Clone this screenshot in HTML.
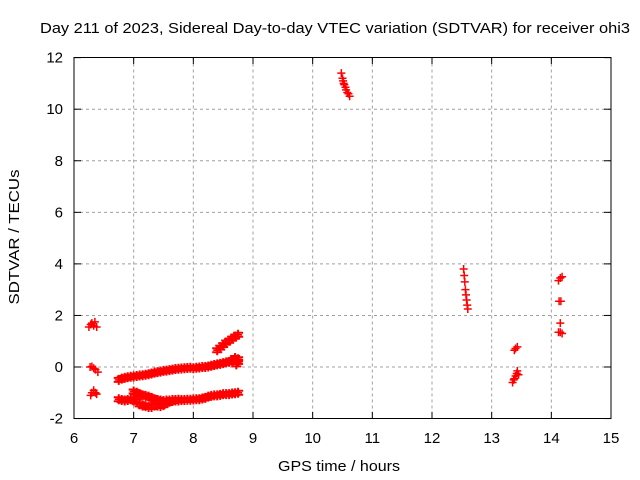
<!DOCTYPE html>
<html><head><meta charset="utf-8"><style>
html,body{margin:0;padding:0;background:#fff}
svg{display:block;font-family:"Liberation Sans",sans-serif}
</style></head><body>
<svg id="chart" width="640" height="480" viewBox="0 0 640 480" xmlns="http://www.w3.org/2000/svg">
<text x="335" y="33" font-size="15" text-anchor="middle" textLength="590" lengthAdjust="spacingAndGlyphs">Day 211 of 2023, Sidereal Day-to-day VTEC variation (SDTVAR) for receiver ohi3</text>
<text x="339" y="471" font-size="15" text-anchor="middle" textLength="122" lengthAdjust="spacingAndGlyphs">GPS time / hours</text>
<text x="19" y="237" font-size="15" text-anchor="middle" textLength="135" lengthAdjust="spacingAndGlyphs" transform="rotate(-90 19 237)">SDTVAR / TECUs</text>
<g id="grid"></g>
<g id="ticks"></g>
<g id="marks"></g>
<rect x="74" y="57.5" width="537" height="361" fill="none" stroke="#000" stroke-width="1"/>
</svg>
<script>
const xTicks=[6,7,8,9,10,11,12,13,14,15];
const yTicks=[-2,0,2,4,6,8,10,12];
const hours=[6.25,6.28,6.3,6.33,6.35,6.38,6.27,6.3,6.33,6.36,6.4,6.28,6.3,6.33,6.36,6.38,
6.75,6.8,6.85,6.9,6.95,7.0,7.05,7.1,7.15,7.2,7.25,7.3,7.35,7.4,7.45,7.5,7.55,7.6,7.65,7.7,7.75,7.8,7.85,7.9,7.95,8.0,8.05,8.1,8.15,8.2,8.25,8.3,8.35,8.4,8.45,8.5,8.55,8.6,8.65,8.7,8.75,8.72,8.75,8.7,
6.75,6.8,6.85,6.9,6.95,7.0,7.05,7.1,7.15,7.2,7.25,7.3,7.35,7.4,7.45,7.5,7.55,7.6,7.65,7.7,7.75,7.8,7.85,7.9,7.95,8.0,8.05,8.1,8.15,8.2,8.25,8.3,8.35,8.4,8.45,8.5,8.55,8.6,8.65,8.7,8.75,
7.0,7.05,7.1,7.15,7.2,7.25,7.3,7.35,7.4,7.45,7.5,7.55,7.6,7.65,7.7,7.75,
8.4,8.45,8.5,8.55,8.6,8.65,8.7,8.75,
10.48,10.5,10.51,10.52,10.53,10.55,10.56,10.58,10.6,10.62,
12.53,12.54,12.55,12.56,12.57,12.58,12.59,12.6,
13.38,13.4,13.43,13.35,13.37,13.38,13.4,13.42,13.43,13.45,
14.12,14.15,14.18,14.13,14.16,14.15,14.12,14.15,14.18];
const tecu=[1.55,1.65,1.7,1.6,1.75,1.55,0.0,0.02,-0.05,-0.1,-0.2,-1.1,-1.0,-0.9,-1.0,-1.05,
-0.5,-0.45,-0.42,-0.4,-0.38,-0.37,-0.35,-0.33,-0.32,-0.3,-0.28,-0.25,-0.22,-0.2,-0.18,-0.15,-0.14,-0.12,-0.1,-0.08,-0.07,-0.06,-0.05,-0.04,-0.03,-0.05,-0.03,-0.02,0.0,0.0,0.02,0.05,0.08,0.1,0.12,0.15,0.18,0.2,0.25,0.3,0.3,0.1,0.2,0.35,
-1.25,-1.28,-1.3,-1.28,-1.25,-1.3,-1.35,-1.45,-1.5,-1.52,-1.55,-1.55,-1.5,-1.5,-1.52,-1.48,-1.4,-1.35,-1.32,-1.3,-1.3,-1.28,-1.28,-1.27,-1.27,-1.26,-1.25,-1.25,-1.22,-1.2,-1.15,-1.12,-1.1,-1.1,-1.08,-1.05,-1.05,-1.05,-1.03,-1.02,-1.0,
-0.95,-1.0,-1.05,-1.1,-1.12,-1.15,-1.2,-1.25,-1.28,-1.3,-1.32,-1.3,-1.3,-1.28,-1.28,-1.27,
0.65,0.75,0.85,0.95,1.02,1.1,1.18,1.25,
11.4,11.2,11.1,11.0,10.95,10.85,10.75,10.65,10.6,10.5,
3.8,3.55,3.3,3.0,2.8,2.6,2.4,2.25,
0.65,0.72,0.78,-0.6,-0.5,-0.45,-0.35,-0.25,-0.15,-0.3,
3.35,3.45,3.5,2.55,2.55,1.7,1.35,1.35,1.3];
const X=h=>74+(h-6)*(537/9);
const Y=v=>367-v*25.78;
const NS="http://www.w3.org/2000/svg";
const grid=document.getElementById('grid'),ticks=document.getElementById('ticks'),marks=document.getElementById('marks');
function mk(t,a,p){const e=document.createElementNS(NS,t);for(const k in a)e.setAttribute(k,a[k]);p.appendChild(e);return e;}
xTicks.forEach(t=>{const x=X(t);
 if(t>6&&t<15){const l=mk('line',{x1:x,y1:57.5,x2:x,y2:418.5,stroke:'#a0a0a0','stroke-dasharray':'3,3'},grid);
 
 }
 mk('line',{x1:x,y1:418.5,x2:x,y2:412,stroke:'#000'},ticks);
 mk('line',{x1:x,y1:57.5,x2:x,y2:64,stroke:'#000'},ticks);
 const tx=mk('text',{x:x,y:443,'font-size':15,'text-anchor':'middle'},ticks);tx.textContent=t;
 
 });
yTicks.forEach(t=>{const y=Y(t);
 if(t>-2&&t<12){const l=mk('line',{x1:74,y1:y,x2:611,y2:y,stroke:'#a0a0a0','stroke-dasharray':'3,3'},grid);
 
 }
 mk('line',{x1:74,y1:y,x2:81,y2:y,stroke:'#000'},ticks);
 mk('line',{x1:611,y1:y,x2:604,y2:y,stroke:'#000'},ticks);
 const tx=mk('text',{x:63,y:y+5,'font-size':15,'text-anchor':'end'},ticks);tx.textContent=t;
 
 });
hours.forEach((h,i)=>{const x=X(h),y=Y(tecu[i]);
 const p=mk('path',{d:`M${x-4},${y}H${x+4}M${x},${y-4}V${y+4}`,stroke:'#f00','stroke-width':1.5,fill:'none'},marks);
 
 
 if(h>6.5&&h<9){const q=mk('path',{d:`M${x-5},${y-2}H${x+5}M${x-5},${y+2}H${x+5}M${x},${y-5}V${y+5}`,stroke:'#f00','stroke-width':2,fill:'none'},marks);
 
 }
});
</script>
</body></html>
